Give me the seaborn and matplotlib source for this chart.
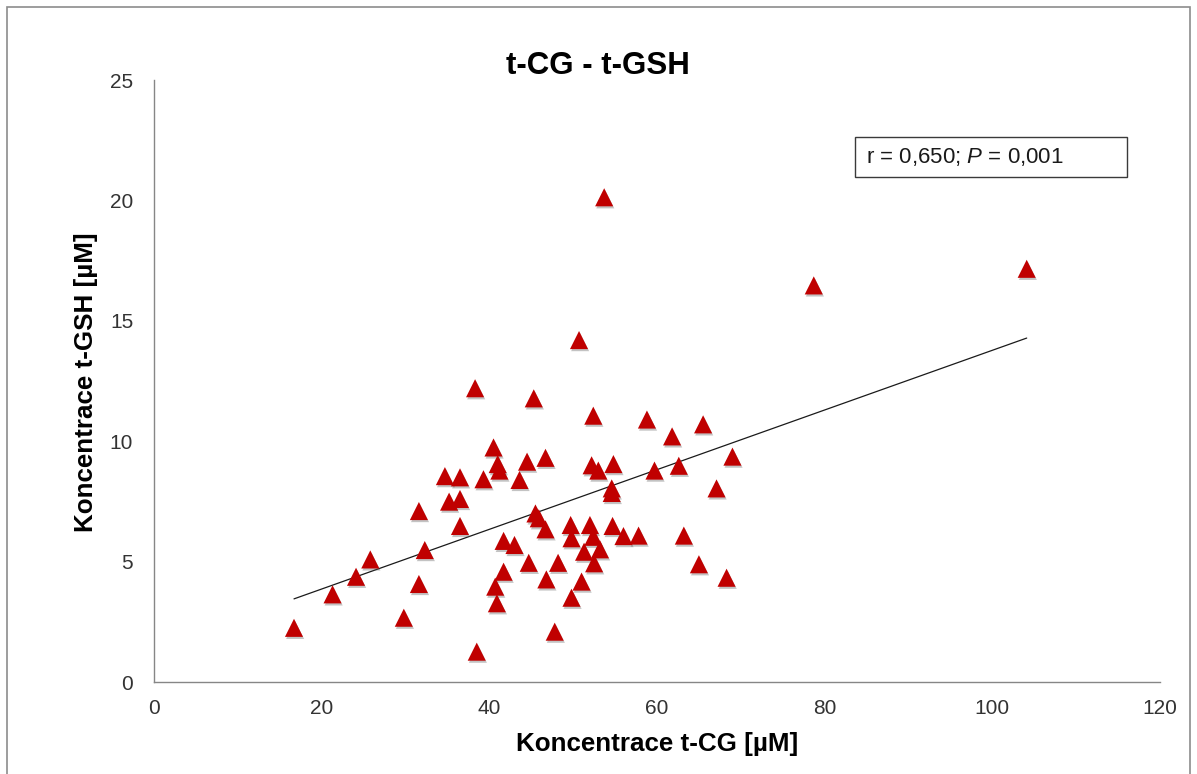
import numpy as np
import pandas as pd
import matplotlib
matplotlib.use("Agg")
import matplotlib.pyplot as plt
import matplotlib.patheffects as pe
from matplotlib.patches import Rectangle
import seaborn as sns

# ---- data ----
t_cg = [16.7, 21.3, 24.1, 25.8, 29.8, 31.6, 32.3, 31.6, 34.7, 36.5,
        39.3, 35.2, 36.5, 36.5, 38.5, 38.3, 40.5, 41.0, 41.2, 44.5,
        46.7, 43.6, 45.3, 50.7, 52.4, 58.8, 65.5, 61.8, 52.2, 53.0,
        54.8, 59.7, 62.6, 69.0, 54.6, 54.6, 67.1, 45.5, 45.9, 46.7,
        49.7, 52.0, 54.7, 49.8, 52.4, 56.0, 57.8, 63.2, 41.7, 43.0,
        53.2, 51.3, 44.7, 48.2, 52.5, 65.0, 41.7, 40.7, 40.9, 46.8,
        51.0, 49.8, 68.3, 47.8, 53.7, 78.7, 104.1]
t_gsh = [2.25, 3.64, 4.37, 5.09, 2.67, 4.07, 5.48, 7.10, 8.55, 8.50,
         8.42, 7.49, 7.60, 6.48, 1.26, 12.20, 9.74, 9.05, 8.78, 9.15,
         9.31, 8.39, 11.78, 14.20, 11.06, 10.90, 10.70, 10.20, 9.00, 8.78,
         9.05, 8.78, 8.98, 9.36, 8.04, 7.85, 8.04, 7.00, 6.80, 6.34,
         6.52, 6.52, 6.48, 5.97, 6.03, 6.06, 6.08, 6.08, 5.86, 5.69,
         5.51, 5.41, 4.95, 4.95, 4.93, 4.89, 4.58, 3.96, 3.27, 4.26,
         4.17, 3.50, 4.33, 2.09, 20.13, 16.47, 17.16]
x_ticks = [0, 20, 40, 60, 80, 100, 120]
y_ticks = [0, 5, 10, 15, 20, 25]
title = "t-CG - t-GSH"
x_label = "Koncentrace t-CG [µM]"
y_label = "Koncentrace t-GSH [µM]"
stat_text = r"r = 0,650; $\mathit{P}$ = 0,001"

df = pd.DataFrame({"tcg": t_cg, "tgsh": t_gsh})

sns.set_theme(style="white")
plt.rcParams["font.family"] = ["Liberation Sans", "DejaVu Sans"]
plt.rcParams["mathtext.fontset"] = "custom"
plt.rcParams["mathtext.rm"] = "Liberation Sans"
plt.rcParams["mathtext.it"] = "Liberation Sans:italic"

fig = plt.figure(figsize=(11.97, 7.74), dpi=100)
fig.patch.set_facecolor("white")
ax = fig.add_axes([154 / 1197, 1 - 682 / 774, (1160 - 154) / 1197, (682 - 80) / 774])

sns.regplot(data=df, x="tcg", y="tgsh", ax=ax, scatter=False, ci=None,
            truncate=True, line_kws=dict(color="#1a1a1a", lw=0.9))
sns.scatterplot(data=df, x="tcg", y="tgsh", ax=ax, marker="^", s=170,
                color="#C00000", edgecolor="none", linewidth=0, zorder=3)
for coll in ax.collections:
    coll.set_path_effects([pe.SimplePatchShadow(offset=(0.8, -1.5), alpha=0.35,
                                                shadow_rgbFace="#555555"),
                           pe.Normal()])

ax.set_xlim(0, 120)
ax.set_ylim(0, 25)
ax.set_xticks(x_ticks)
ax.set_yticks(y_ticks)
ax.tick_params(axis="both", which="major", labelsize=15, labelcolor="#333333",
               length=0)
ax.tick_params(axis="y", pad=15)
ax.tick_params(axis="x", pad=12)
for side in ["top", "right"]:
    ax.spines[side].set_visible(False)
for side in ["left", "bottom"]:
    ax.spines[side].set_color("#868686")
    ax.spines[side].set_linewidth(1.0)

ax.set_xlabel(x_label, fontsize=18.7, fontweight="bold", color="black")
ax.set_ylabel(y_label, fontsize=18.7, fontweight="bold", color="black")
ax.xaxis.set_label_coords(0.5, -(732 - 682) / 602)
ax.yaxis.set_label_coords((98 - 154) / 1006, (682 - 382) / 602)

fig.text(598 / 1197, 1 - 74 / 774, title, fontsize=22.5, fontweight="bold",
         color="black", ha="center", va="baseline")

# statistics box
fig.add_artist(Rectangle((855 / 1197, 1 - 177 / 774), 272 / 1197, 40 / 774,
                         transform=fig.transFigure, fill=False,
                         edgecolor="#3a3a3a", lw=1.0))
fig.text(866 / 1197, 1 - 157 / 774, stat_text, fontsize=16, color="#1a1a1a",
         ha="left", va="center")

# outer chart border
fig.add_artist(Rectangle((7 / 1197, -0.05), (1190 - 7) / 1197, 1.05 - 7 / 774,
                         transform=fig.transFigure, fill=False,
                         edgecolor="#8c8c8c", lw=1.2))

fig.savefig("out.png", dpi=100, facecolor="white")
